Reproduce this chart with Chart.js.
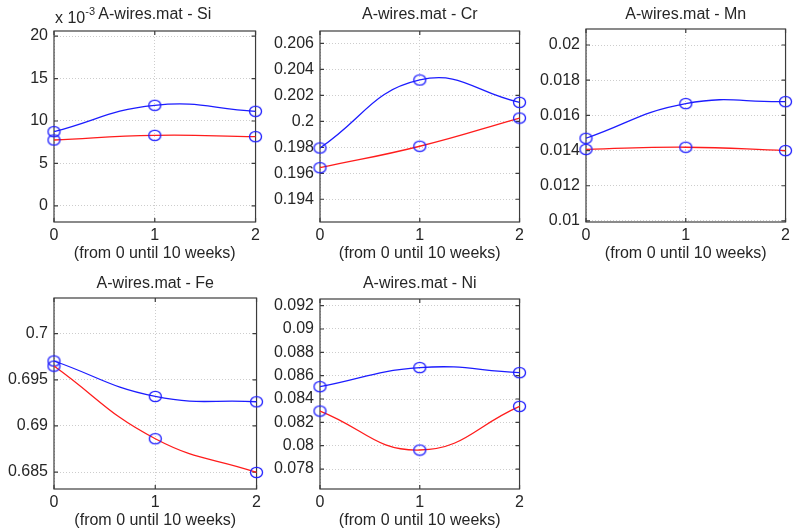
<!DOCTYPE html>
<html lang="en">
<head>
<meta charset="UTF-8">
<title>A-wires.mat</title>
<script src="https://cdn.jsdelivr.net/npm/chart.js@4.4.1/dist/chart.umd.min.js"></script>
<style>
  html, body { margin: 0; padding: 0; background: #fff; }
  body { width: 794px; height: 530px; position: relative; overflow: hidden; }
  .panel { position: absolute; }
</style>
</head>
<body>
<script>
// Measurement points (0, 1, 2 = from 0 until 10 weeks)
const weeks = [0, 1, 2];

// Si, shown in units of 1e-3
const siUpper = [8.74, 11.85, 11.14];
const siLower = [7.76, 8.31, 8.15];
const siTicks = [0, 5, 10, 15, 20];

const crUpper = [0.19795, 0.20318, 0.20146];
const crLower = [0.19643, 0.19808, 0.20025];
const crTicks = [0.194, 0.196, 0.198, 0.2, 0.202, 0.204, 0.206];

const mnUpper = [0.0147, 0.01667, 0.01678];
const mnLower = [0.01407, 0.01419, 0.0140];
const mnTicks = [0.01, 0.012, 0.014, 0.016, 0.018, 0.02];

const feUpper = [0.69704, 0.6932, 0.69262];
const feLower = [0.69649, 0.68861, 0.68496];
const feTicks = [0.685, 0.69, 0.695, 0.7];

const niUpper = [0.08506, 0.08669, 0.08626];
const niLower = [0.08297, 0.07963, 0.08337];
const niTicks = [0.078, 0.08, 0.082, 0.084, 0.086, 0.088, 0.09, 0.092];

const xLabel = '(from 0 until 10 weeks)';

const BLUE = 'rgb(28, 28, 255)';
const RED = 'rgb(255, 28, 28)';
const FRAME = '#3c3c3c';
const GRID = '#cdcdcd';
const TEXT = '#262626';
const FONT_SIZE = 16;
const LINE_H = FONT_SIZE * 1.2;

Chart.defaults.font.family = "'Liberation Sans', Arial, Helvetica, sans-serif";
Chart.defaults.font.size = FONT_SIZE;
Chart.defaults.color = TEXT;

// one entry per subplot: axis limits and where the plot box sits on the page
const panels = [
  { title: 'A-wires.mat - Si', upper: siUpper, lower: siLower, ticks: siTicks,
    yMin: -1.9, yMax: 20.6, exp: '-3', box: { l: 54, t: 31, r: 256, b: 222 }, titleY: 15 },
  { title: 'A-wires.mat - Cr', upper: crUpper, lower: crLower, ticks: crTicks,
    yMin: 0.19225, yMax: 0.20695, box: { l: 320, t: 31, r: 520, b: 222 }, titleY: 15 },
  { title: 'A-wires.mat - Mn', upper: mnUpper, lower: mnLower, ticks: mnTicks,
    yMin: 0.00994, yMax: 0.02091, box: { l: 586, t: 29, r: 786, b: 222 }, titleY: 15 },
  { title: 'A-wires.mat - Fe', upper: feUpper, lower: feLower, ticks: feTicks,
    yMin: 0.68316, yMax: 0.70387, box: { l: 54, t: 298, r: 257, b: 489 }, titleY: 284 },
  { title: 'A-wires.mat - Ni', upper: niUpper, lower: niLower, ticks: niTicks,
    yMin: 0.07629, yMax: 0.09257, box: { l: 320, t: 299, r: 520, b: 489 }, titleY: 284 }
];

const Y_AXIS_W = 54;
const TITLE_H = 31;
const X_AXIS_H = 41;
const PAD_R = 8;

// open elliptical marker, slightly wider than tall
function ringMarker() {
  const c = document.createElement('canvas');
  c.width = 15; c.height = 13;
  const g = c.getContext('2d');
  g.strokeStyle = BLUE;
  g.lineWidth = 1.3;
  g.beginPath();
  g.ellipse(7.5, 6.5, 6, 5.2, 0, 0, Math.PI * 2);
  g.stroke();
  return c;
}
const marker = ringMarker();

// box around the axes with short inward ticks on all four sides
const axesFrame = {
  id: 'axesFrame',
  beforeDatasetsDraw(chart) {
    const { ctx, chartArea: a, scales } = chart;
    ctx.save();
    ctx.strokeStyle = FRAME;
    ctx.lineWidth = 1.2;
    ctx.beginPath();
    scales.y.ticks.forEach(t => {
      const y = scales.y.getPixelForValue(t.value);
      ctx.moveTo(a.left, y); ctx.lineTo(a.left + 4, y);
      ctx.moveTo(a.right, y); ctx.lineTo(a.right - 4, y);
    });
    scales.x.ticks.forEach(t => {
      const x = scales.x.getPixelForValue(t.value);
      ctx.moveTo(x, a.bottom); ctx.lineTo(x, a.bottom - 4);
      ctx.moveTo(x, a.top); ctx.lineTo(x, a.top + 4);
    });
    ctx.stroke();
    ctx.strokeRect(a.left, a.top, a.right - a.left, a.bottom - a.top);
    ctx.restore();
  }
};

// "x 10^-3" multiplier above the y axis
const axisExponent = {
  id: 'axisExponent',
  afterDraw(chart, args, opts) {
    if (!opts.text) return;
    const { ctx, chartArea: a } = chart;
    ctx.save();
    ctx.fillStyle = TEXT;
    ctx.textBaseline = 'alphabetic';
    ctx.font = FONT_SIZE + "px 'Liberation Sans', Arial, sans-serif";
    const base = 'x 10';
    ctx.fillText(base, a.left + 1, a.top - 8);
    const w = ctx.measureText(base).width;
    ctx.font = "11px 'Liberation Sans', Arial, sans-serif";
    ctx.fillText(opts.text, a.left + 1 + w, a.top - 16);
    ctx.restore();
  }
};

const fmt = v => String(parseFloat(Number(v).toFixed(5)));

panels.forEach(p => {
  const b = p.box;
  const left = b.l - Y_AXIS_W;
  const top = b.t - TITLE_H;
  const width = (b.r - b.l) + Y_AXIS_W + PAD_R;
  const height = (b.b - b.t) + TITLE_H + X_AXIS_H;

  const div = document.createElement('div');
  div.className = 'panel';
  div.style.left = left + 'px';
  div.style.top = top + 'px';
  const canvas = document.createElement('canvas');
  canvas.width = width;
  canvas.height = height;
  div.appendChild(canvas);
  document.body.appendChild(div);

  const padTop = p.titleY - top - LINE_H / 2;

  const series = (vals, color) => ({
    data: weeks.map((w, i) => ({ x: w, y: vals[i] })),
    borderColor: color,
    borderWidth: 1.3,
    tension: 0.45,
    pointStyle: marker,
    pointRadius: 6,
    clip: false,
    fill: false
  });

  new Chart(canvas, {
    type: 'line',
    data: { datasets: [series(p.lower, RED), series(p.upper, BLUE)] },
    options: {
      responsive: false,
      animation: false,
      events: [],
      layout: { padding: { left: 0, right: PAD_R, top: 0, bottom: 0 } },
      plugins: {
        legend: { display: false },
        tooltip: { enabled: false },
        title: {
          display: true,
          text: p.title,
          fullSize: false,
          color: TEXT,
          font: { size: FONT_SIZE, weight: 'normal', lineHeight: 1.2 },
          padding: { top: padTop, bottom: TITLE_H - LINE_H - padTop }
        },
        axisExponent: { text: p.exp || '' }
      },
      scales: {
        x: {
          type: 'linear',
          min: 0,
          max: 2,
          afterBuildTicks: s => { s.ticks = weeks.map(v => ({ value: v })); },
          afterFit: s => { s.height = X_AXIS_H; },
          ticks: { padding: 4, maxRotation: 0, callback: v => fmt(v) },
          grid: { color: GRID, lineWidth: 1, drawTicks: false },
          border: { display: false, dash: [1, 2] },
          title: { display: true, text: xLabel, padding: { top: 0, bottom: 0 }, font: { size: FONT_SIZE } }
        },
        y: {
          min: p.yMin,
          max: p.yMax,
          afterBuildTicks: s => { s.ticks = p.ticks.map(v => ({ value: v })); },
          afterFit: s => { s.width = Y_AXIS_W; },
          ticks: { padding: 6, callback: v => fmt(v) },
          grid: { color: GRID, lineWidth: 1, drawTicks: false },
          border: { display: false, dash: [1, 2] }
        }
      }
    },
    plugins: [axesFrame, axisExponent]
  });
});
</script>
</body>
</html>
